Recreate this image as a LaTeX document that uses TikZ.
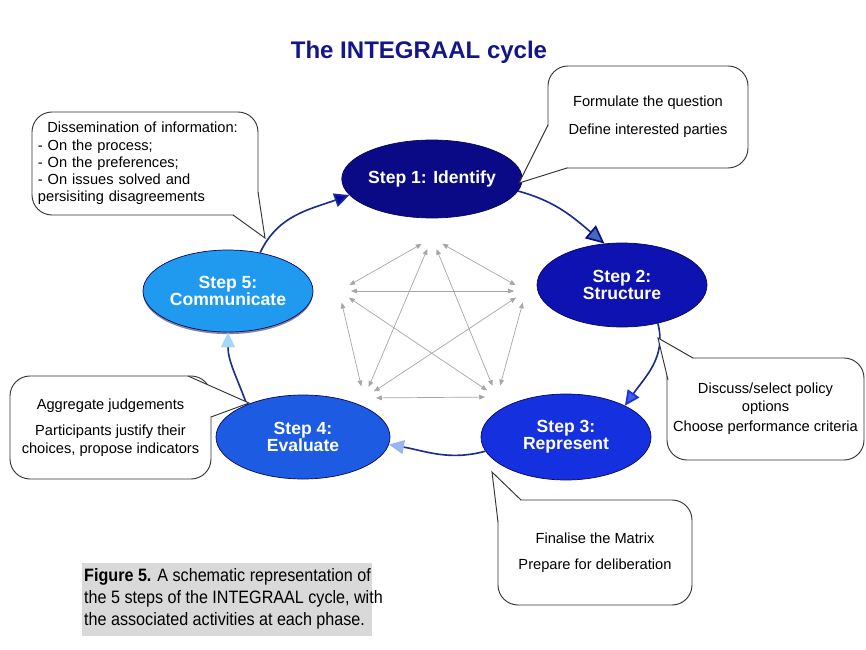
\documentclass[tikz,border=0pt]{standalone}
\usepackage{fontspec}
\setmainfont{Liberation Sans}
\newfontfamily\narrowfont{Liberation Sans}[FakeStretch=0.9]
\usetikzlibrary{arrows.meta,shapes,shadows}

\definecolor{titleblue}{HTML}{14148C}
\definecolor{stepA}{HTML}{0A0A86}
\definecolor{stepB}{HTML}{0D12B0}
\definecolor{stepC}{HTML}{1530DE}
\definecolor{stepD}{HTML}{1D5CE2}
\definecolor{stepE}{HTML}{1F9AEE}
\definecolor{cycleline}{HTML}{1E2C8C}
\definecolor{captiongray}{HTML}{D9D9D9}

\begin{document}
\begin{tikzpicture}[x=0.03cm, y=-0.03cm]
	\tikzset{StepStyle/.style = {
			shape=ellipse,
			draw=stepA!70!black,
			line width=0.6pt,
			text=white,
			inner sep=0pt,
			align=center,
			font=\fontsize{15}{14.5}\selectfont\bfseries
	}}
	\tikzset{NoteStyle/.style = {
			shape=rectangle,
			rounded corners=0.6cm,
			draw=black!80,
			fill=white,
			line width=0.8pt,
			align=center,
			inner sep=0pt,
			font=\fontsize{12.5}{14.7}\selectfont
	}}
	\tikzset{TailStyle/.style = {draw=black!80, line width=0.8pt}}
	\tikzset{CycleStyle/.style = {draw=cycleline, line width=1.4pt}}
	\tikzset{LinkStyle/.style = {<->, draw=black!35, line width=0.6pt, >={Triangle[length=5pt,width=4pt]}}}
	\tikzset{CornerStyle/.style = {shape=circle, minimum size=0.7cm, inner sep=0pt}}

	\useasboundingbox (0,0) rectangle (866,650);

	% title
	\node[text=titleblue, font=\fontsize{20.5}{24}\selectfont\bfseries] (title) at (419,52) {The INTEGRAAL cycle};

	% the five steps
	\node[StepStyle, fill=stepA, minimum width=5.22cm, minimum height=2.34cm] (s1) at (432,179) {Step 1: Identify};
	\node[StepStyle, fill=stepB, minimum width=5.1cm, minimum height=2.52cm] (s2) at (622,285) {Step 2:\\Structure};
	\node[StepStyle, fill=stepC, minimum width=5.1cm, minimum height=2.58cm] (s3) at (566,437) {Step 3:\\Represent};
	\node[StepStyle, fill=stepD, minimum width=5.22cm, minimum height=2.52cm] (s4) at (303,437) {Step 4:\\Evaluate};
	\node[StepStyle, fill=stepE, minimum width=5.1cm, minimum height=2.46cm,
		drop shadow={shadow xshift=0pt, shadow yshift=-1.8pt, fill=stepA!60!black, opacity=0.5}] (s5) at (228,291) {Step 5:\\Communicate};

	% the cycle
	\draw[CycleStyle, -{Triangle[length=0.45cm, width=0.42cm, fill=stepA!70!blue, color=cycleline]}]
		(s5.50) to[out=65, in=200] (s1.191);
	\draw[CycleStyle, -{Triangle[length=0.55cm, width=0.5cm, fill=stepD!60!gray, color=stepA]}]
		(s1.-8) to[out=-15, in=140] (s2.113);
	\draw[CycleStyle, -{Triangle[length=0.45cm, width=0.42cm, fill=stepC!80!white, color=stepC]}]
		(s2.-47) to[out=-75, in=55] (s3.28);
	\draw[CycleStyle, -{Triangle[length=0.45cm, width=0.42cm, fill=stepD!45!white, color=stepD!45!white]}]
		(s3.190) to[out=195, in=-10] (s4.-5);
	\draw[CycleStyle, -{Triangle[length=0.45cm, width=0.42cm, fill=stepE!40!white, color=stepE!40!white]}]
		(s4.150) to[out=110, in=-90] (s5.-90);

	% links between the steps
	\node[CornerStyle] (p1) at (432,238) {};
	\node[CornerStyle] (p2) at (526,291) {};
	\node[CornerStyle] (p3) at (497,397) {};
	\node[CornerStyle] (p4) at (364,398) {};
	\node[CornerStyle] (p5) at (339,291) {};
	\foreach \a/\b in {1/2,1/3,1/4,1/5,2/3,2/4,2/5,3/4,3/5,4/5}
		\draw[LinkStyle] (p\a) -- (p\b);

	% notes
	\node[NoteStyle, minimum width=6cm, minimum height=3.06cm] (n1) at (648,117)
		{Formulate the question\\[9pt]Define interested parties};
	\node[NoteStyle, minimum width=5.91cm, minimum height=3.06cm] (n2) at (765.5,409)
		{Discuss/select policy\\options\\[3pt]Choose performance criteria};
	\node[NoteStyle, minimum width=5.82cm, minimum height=3.15cm] (n3) at (595,552.5)
		{Finalise the Matrix\\[7pt]Prepare for deliberation};
	\node[NoteStyle, minimum width=6.03cm, minimum height=3.09cm] (n4) at (110.5,427.5)
		{Aggregate judgements\\[8pt]Participants justify their\\choices, propose indicators};
	\node[NoteStyle, minimum width=6.78cm, minimum height=3.09cm, text width=6.42cm, align=left] (n5) at (145,163.5)
		{\hspace*{8pt}Dissemination of information:\\- On the process;\\- On the preferences;\\- On issues solved and\\persisiting disagreements};

	% tails of the notes
	\coordinate (t1) at (519,183);
	\coordinate (t2) at (658,338);
	\coordinate (t3) at (492,472);
	\coordinate (t4) at (249,403);
	\coordinate (t5) at (265,238);
	\fill[white] (548,125) -- (t1) -- (567,168) -- cycle;
	\draw[TailStyle] (548,125) -- (t1) -- (567,168);
	\fill[white] (693,358) -- (t2) -- (668,380) -- cycle;
	\draw[TailStyle] (693,358) -- (t2) -- (668,380);
	\fill[white] (521,500) -- (t3) -- (498,522) -- cycle;
	\draw[TailStyle] (521,500) -- (t3) -- (498,522);
	\fill[white] (188,376) -- (t4) -- (211,417) -- cycle;
	\draw[TailStyle] (188,376) -- (t4) -- (211,417);
	\fill[white] (233,215) -- (t5) -- (258,192) -- cycle;
	\draw[TailStyle] (233,215) -- (t5) -- (258,192);

	% caption
	\fill[captiongray] (82,563) rectangle (372,636);
	\node[anchor=north west, align=left, inner sep=0pt, font=\narrowfont\fontsize{15.3}{19.1}\selectfont] (caption) at (84,568)
		{\textbf{Figure 5.} A schematic representation of\\the 5 steps of the INTEGRAAL cycle, with\\the associated activities at each phase.};
\end{tikzpicture}
\end{document}
